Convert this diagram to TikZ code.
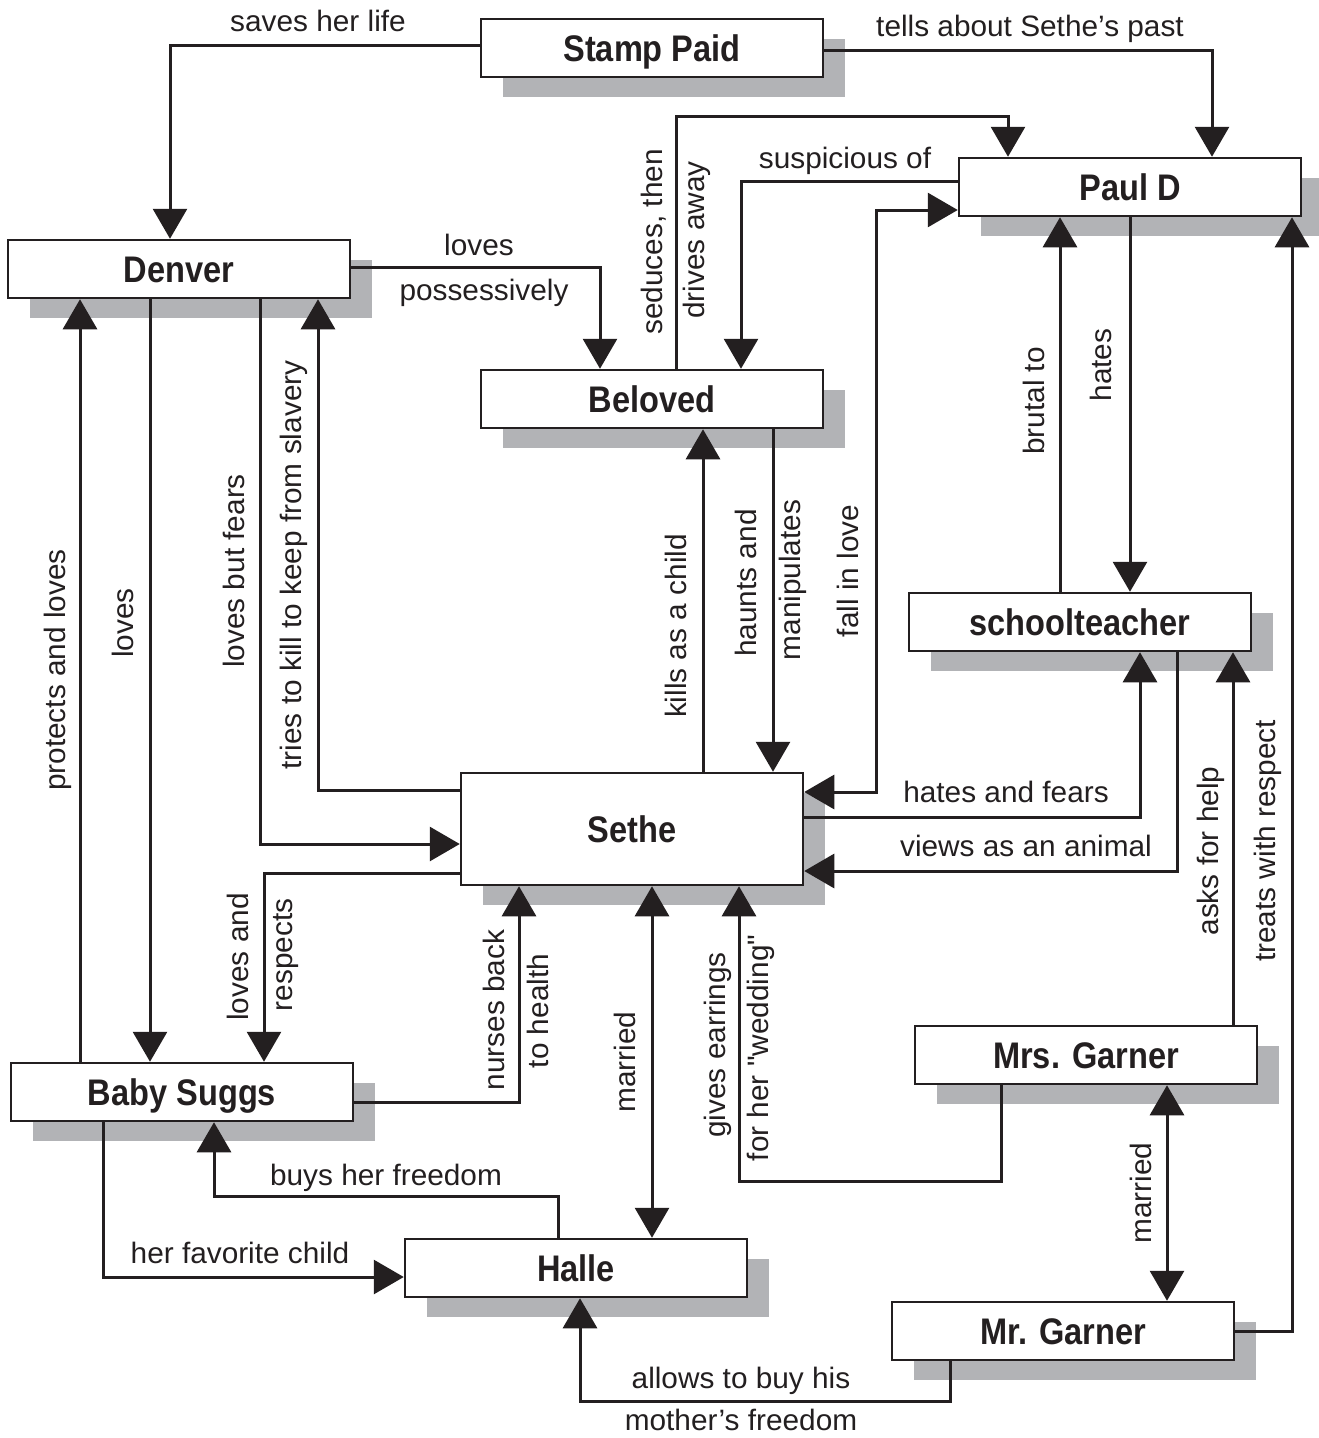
\documentclass[tikz,border=0pt]{standalone}
\usepackage{fontspec}
\setmainfont{Liberation Sans}
\newfontfamily\boxfont[FakeStretch=0.88]{Liberation Sans}
\newfontfamily\lblfont[FakeStretch=1.01]{Liberation Sans}
\usetikzlibrary{arrows.meta,shadows}
\definecolor{ink}{RGB}{35,31,32}
\definecolor{shgray}{RGB}{178,179,182}
\begin{document}
\begin{tikzpicture}[x=1pt,y=-1pt,
 box/.style={draw=ink, line width=2.5pt, fill=white, minimum width=342pt, minimum height=58pt, inner sep=0pt,
   font=\boxfont\bfseries\fontsize{37}{40}\selectfont, text=ink, text height=26.5pt, text depth=0pt,
   drop shadow={shadow xshift=22pt, shadow yshift=-20pt, fill=shgray, opacity=1, draw=none}},
 lbl/.style={font=\lblfont\fontsize{29.5}{32}\selectfont, text=ink, inner sep=0pt, text height=21pt, text depth=6pt},
 vl/.style={lbl, rotate=90},
 arr/.style={draw=ink, line width=3pt, -{Triangle[width=34pt,length=30pt]}},
 darr/.style={draw=ink, line width=3pt, {Triangle[width=34pt,length=30pt]}-{Triangle[width=34pt,length=30pt]}},
]
\path[use as bounding box, fill=white] (0,0) rectangle (1318,1438);

% boxes
\node[box] (stamp) at (652,48) {Stamp Paid};
\node[box] (paul) at (1130,187) {Paul D};
\node[box] (denver) at (179,269) {Denver};
\node[box] (beloved) at (652,399) {Beloved};
\node[box] (school) at (1080,622) {schoolteacher};
\node[box, minimum height=112pt] (sethe) at (632,829) {Sethe};
\node[box] (mrsg) at (1086,1055) {Mrs. Garner};
\node[box] (baby) at (182,1092) {Baby Suggs};
\node[box] (halle) at (576,1268) {Halle};
\node[box] (mrg) at (1063,1331) {Mr. Garner};

% connectors
\draw[arr] ([yshift=3pt]stamp.west) -| ([xshift=-9pt]denver.north);
\draw[arr] ([yshift=-2pt]stamp.east) -| ([xshift=82pt]paul.north);
\draw[arr] ([xshift=24pt]beloved.north) -- ++(0,-252) -| ([xshift=-122pt]paul.north);
\draw[arr] ([yshift=6pt]paul.west) -| ([xshift=89pt]beloved.north);
\draw[darr] ([yshift=37pt]sethe.east) -- ++(72,0) |- ([yshift=-23pt]paul.west);
\draw[arr] ([yshift=2pt]denver.east) -| ([xshift=-52pt]beloved.north);
\draw[arr] ([xshift=121pt]beloved.south) -- ([xshift=141pt]sethe.north);
\draw[arr] ([xshift=71pt]sethe.north) -- ([xshift=51pt]beloved.south);
\draw[arr] ([xshift=-20pt]school.north) -- ([xshift=-70pt]paul.south);
\draw[arr] (paul.south) -- ([xshift=50pt]school.north);
\draw[arr] ([yshift=12pt]sethe.east) -| ([xshift=60pt]school.south);
\draw[arr] ([xshift=97pt]school.south) |- ([yshift=-42pt]sethe.east);
\draw[arr] ([xshift=147pt]mrsg.north) -- ([xshift=153pt]school.south);
\draw[arr] (mrg.east) -| ([xshift=162pt]paul.south);
\draw[darr] ([xshift=81pt]mrsg.south) -- ([xshift=104pt]mrg.north);
\draw[arr] ([xshift=-85pt]mrsg.south) -- ++(0,96) -| ([xshift=107pt]sethe.south);
\draw[darr] ([xshift=20pt]sethe.south) -- ([xshift=76pt]halle.north);
\draw[arr] ([yshift=-10pt]baby.east) -| ([xshift=-113pt]sethe.south);
\draw[arr] ([yshift=-44pt]sethe.west) -| ([xshift=82pt]baby.north);
\draw[arr] ([xshift=-29pt]denver.south) -- ([xshift=-32pt]baby.north);
\draw[arr] ([xshift=-102pt]baby.north) -- ([xshift=-99pt]denver.south);
\draw[arr] ([xshift=81pt]denver.south) |- ([yshift=-15pt]sethe.west);
\draw[arr] ([yshift=39pt]sethe.west) -| ([xshift=139pt]denver.south);
\draw[arr] ([xshift=-18pt]halle.north) -- ++(0,-41) -| ([xshift=32pt]baby.south);
\draw[arr] ([xshift=-79pt]baby.south) |- ([yshift=-9pt]halle.west);
\draw[arr] ([xshift=-113pt]mrg.south) -- ++(0,40) -| ([xshift=4pt]halle.south);

% labels
\node[lbl] (t1) at (318,24) {saves her life};
\node[lbl] (t2) at (1030,29) {tells about Sethe’s past};
\node[vl] (t3a) at (655,242) {seduces, then};
\node[vl] (t3b) at (697,240) {drives away};
\node[lbl] (t4) at (845,161) {suspicious of};
\node[vl] (t5) at (851,571) {fall in love};
\node[lbl] (t6a) at (479,248) {loves};
\node[lbl] (t6b) at (484,293) {possessively};
\node[vl] (t7a) at (749,583) {haunts and};
\node[vl] (t7b) at (793,580) {manipulates};
\node[vl] (t8) at (679,626) {kills as a child};
\node[vl] (t9) at (1037,401) {brutal to};
\node[vl] (t10) at (1104,365) {hates};
\node[lbl] (t11) at (1006,795) {hates and fears};
\node[lbl] (t12) at (1026,849) {views as an animal};
\node[vl] (t13) at (1211,851) {asks for help};
\node[vl] (t14) at (1268,841) {treats with respect};
\node[vl] (t15) at (1144,1193) {married};
\node[vl] (t16a) at (718,1045) {gives earrings};
\node[vl] (t16b) at (761,1048) {for her "wedding"};
\node[vl] (t17) at (628,1062) {married};
\node[vl] (t18a) at (497,1010) {nurses back};
\node[vl] (t18b) at (541,1011) {to health};
\node[vl] (t19a) at (241,957) {loves and};
\node[vl] (t19b) at (285,955) {respects};
\node[vl] (t20) at (126,623) {loves};
\node[vl] (t21) at (58,670) {protects and loves};
\node[vl] (t22) at (237,571) {loves but fears};
\node[vl] (t23) at (294,565) {tries to kill to keep from slavery};
\node[lbl] (t24) at (386,1178) {buys her freedom};
\node[lbl] (t25) at (240,1256) {her favorite child};
\node[lbl] (t26a) at (741,1381) {allows to buy his};
\node[lbl] (t26b) at (741,1423) {mother’s freedom};
\end{tikzpicture}
\end{document}
